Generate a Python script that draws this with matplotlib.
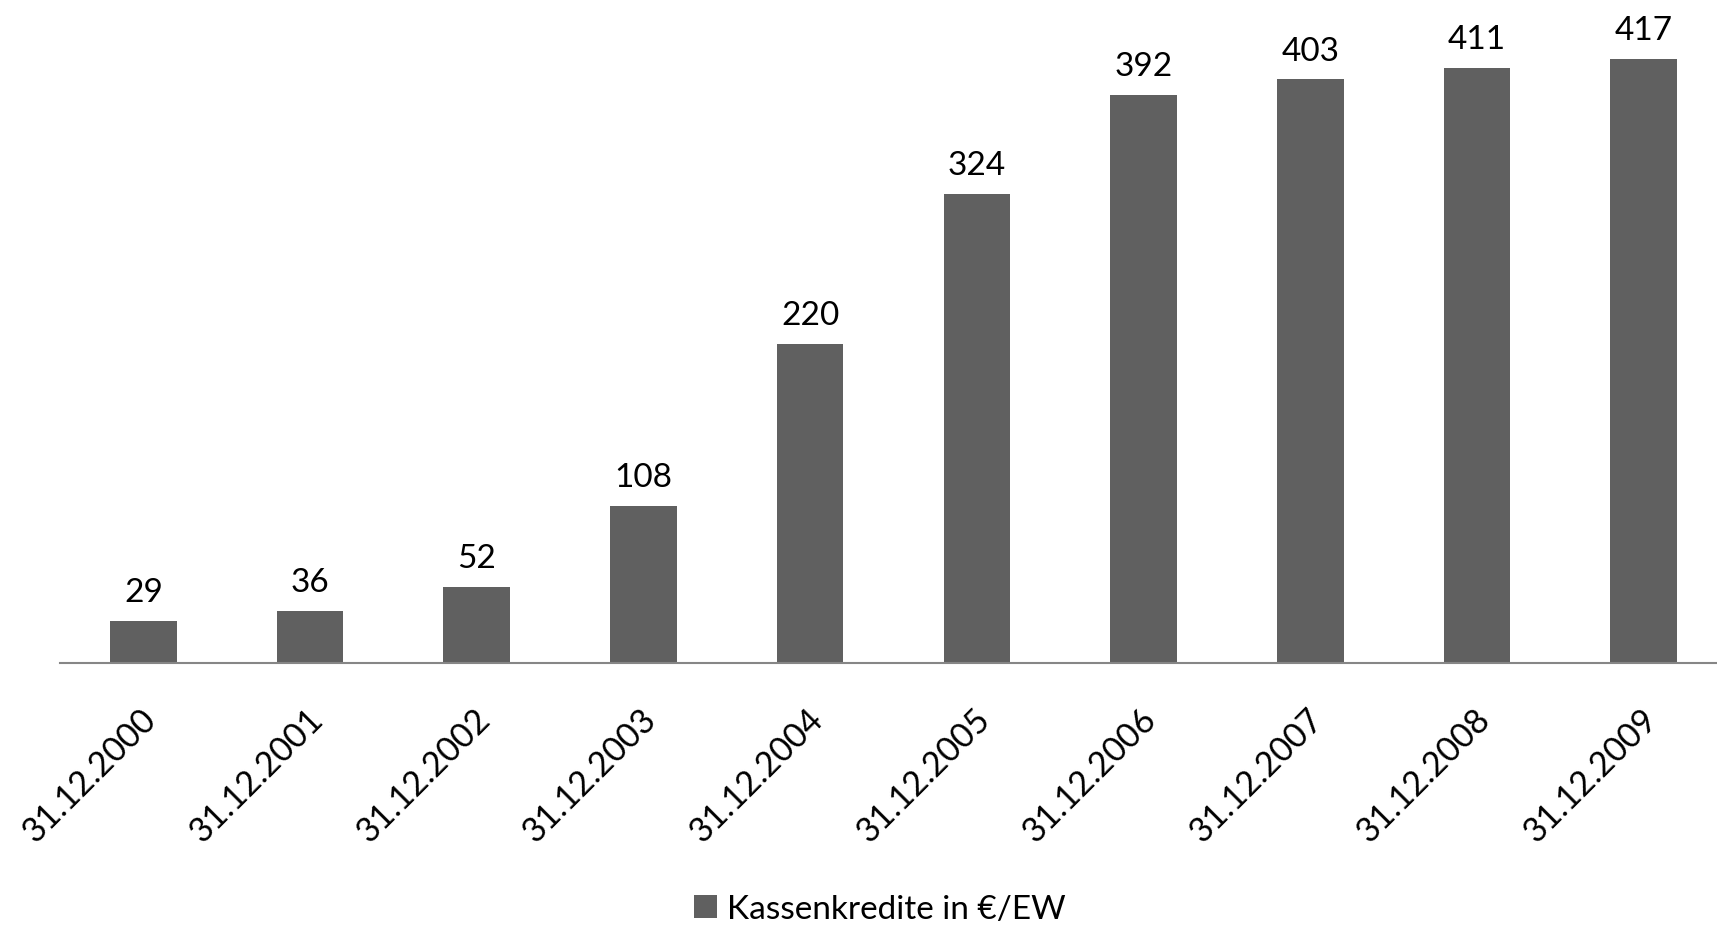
import matplotlib
matplotlib.use("Agg")
import matplotlib.pyplot as plt
from matplotlib.transforms import ScaledTranslation

categories = ["31.12.2000", "31.12.2001", "31.12.2002", "31.12.2003", "31.12.2004",
              "31.12.2005", "31.12.2006", "31.12.2007", "31.12.2008", "31.12.2009"]
values = [29, 36, 52, 108, 220, 324, 392, 403, 411, 417]
series_name = "Kassenkredite in €/EW"

plt.rcParams['font.family'] = ['Lato', 'DejaVu Sans']

W, H = 1717, 928
fig = plt.figure(figsize=(W / 100, H / 100), dpi=100)

ax_left = 60 / W
ax_right = 1.0
ax_bottom = (H - 663.6) / H
ymax = 450
ax_h = ymax * 1.447 / H
ax = fig.add_axes([ax_left, ax_bottom, ax_right - ax_left, ax_h])

x = list(range(len(categories)))
bars = ax.bar(x, values, width=0.4, color="#606060", label=series_name, zorder=2)
ax.set_xlim(-0.5, 9.44)
ax.set_ylim(0, ymax)

for xi, v in zip(x, values):
    ax.annotate(str(v), (xi, v), xytext=(0, 10), textcoords="offset points",
                ha="center", va="bottom", fontsize=24, color="black")

for s in ["top", "right", "left"]:
    ax.spines[s].set_visible(False)
ax.spines["bottom"].set_color("#868686")
ax.spines["bottom"].set_linewidth(1.5)
ax.set_yticks([])
ax.set_xticks(x)
ax.set_xticklabels(categories, rotation=45, ha="right", va="center",
                   rotation_mode="anchor", fontsize=24.5)
ax.tick_params(axis="x", length=0, pad=38)
offset = ScaledTranslation(8 / 100, 2 / 100, fig.dpi_scale_trans)
for lbl in ax.get_xticklabels():
    lbl.set_transform(lbl.get_transform() + offset)

fig.legend(handles=[bars], labels=[series_name], loc="center",
           bbox_to_anchor=(880 / W, 1 - 910 / H), frameon=False, fontsize=24,
           handlelength=0.7, handleheight=0.7, handletextpad=0.3)

fig.savefig("out.png", dpi=100)
